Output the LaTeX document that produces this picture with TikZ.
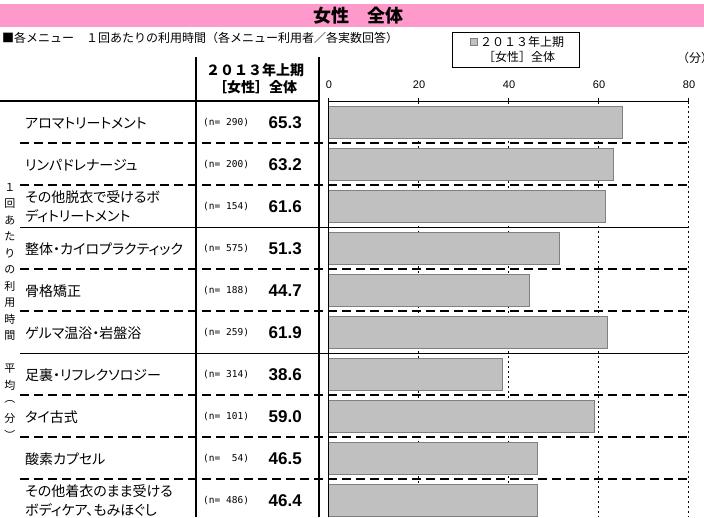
\documentclass[tikz,border=0pt]{standalone}
\usepackage{fontspec}
\setmainfont{Liberation Sans}
\newfontfamily\jp{Noto Sans CJK JP}[RawFeature=+palt]
\newfontfamily\jpfw{Noto Sans CJK JP}
\newfontfamily\nmono{DejaVu Sans Mono}
\definecolor{titlepink}{HTML}{FF99CC}
\definecolor{bargray}{HTML}{C0C0C0}
\definecolor{baredge}{HTML}{808080}

\tikzset{
  rowlab/.style={anchor=west, align=left, inner sep=0pt, font=\jp\fontsize{14}{19}\selectfont},
  nlab/.style={anchor=west, inner sep=0pt, font=\nmono\fontsize{9.5}{10}\selectfont},
  vallab/.style={anchor=east, inner sep=0pt, font=\bfseries\fontsize{17}{18}\selectfont},
  vchar/.style={inner sep=0pt, font=\jpfw\fontsize{11}{12}\selectfont},
  ticklab/.style={inner sep=0pt, font=\fontsize{11}{12}\selectfont},
  sep/.style={line width=1.6pt, dash pattern=on 9pt off 5pt},
  thinsep/.style={line width=0.6pt},
  gridline/.style={line width=1.4pt, dash pattern=on 2pt off 3pt},
  bar/.style={fill=bargray, draw=baredge, line width=0.8pt},
}

\begin{document}
\begin{tikzpicture}[x=1pt, y=-1pt]
  \useasboundingbox (0,0) rectangle (704,517);

  \fill[titlepink] (0,4) rectangle (704,27);
  \node[inner sep=0pt, font=\jpfw\bfseries\fontsize{18}{20}\selectfont] (title) at (358,16) {女性　全体};
  \node[anchor=west, inner sep=0pt, font=\jpfw\fontsize{12}{14}\selectfont] (subtitle) at (2,38)
    {■各メニュー　１回あたりの利用時間（各メニュー利用者／各実数回答）};

  \draw[line width=0.6pt] (452,32) rectangle (579,67);
  \node[draw=baredge, fill=bargray, minimum size=7pt, inner sep=0pt] (legmark) at (474,42) {};
  \node[anchor=west, inner sep=0pt, font=\jpfw\fontsize{12}{14}\selectfont] (leg1) at (480,42) {２０１３年上期};
  \node[inner sep=0pt, font=\jpfw\fontsize{12}{14}\selectfont] (leg2) at (519,57) {［女性］全体};
  \node[anchor=west, inner sep=0pt, font=\jpfw\fontsize{12}{14}\selectfont] (unit) at (677,58) {（分）};

  \node[align=center, inner sep=0pt, font=\jpfw\bfseries\fontsize{14}{17}\selectfont] (head) at (255,79)
    {２０１３年上期\\［女性］全体};

  \foreach \v in {20,40,60,80}
    \draw[gridline] ({328.5+4.5*\v},101) -- ({328.5+4.5*\v},517);

  \foreach \y in {143,185,269,311,395,437,479}
    \draw[sep] (20,\y) -- (688,\y);
  \foreach \y in {227,353}
    \draw[thinsep] (20,\y) -- (688,\y);

  \foreach \lab/\n/\val [count=\i] in {
      アロマトリートメント/290/65.3,
      リンパドレナージュ/200/63.2,
      {その他脱衣で受けるボ\\ディトリートメント}/154/61.6,
      整体・カイロプラクティック/575/51.3,
      骨格矯正/188/44.7,
      ゲルマ温浴・岩盤浴/259/61.9,
      足裏・リフレクソロジー/314/38.6,
      タイ古式/101/59.0,
      酸素カプセル/54/46.5,
      {その他着衣のまま受ける\\ボディケア、もみほぐし}/486/46.4} {
    \pgfmathsetmacro\ytop{101+42*(\i-1)}
    \node[rowlab] (lab\i) at (25,\ytop+22) {\lab};
    \node[nlab] (n\i) at (203,\ytop+22) {(n= \makebox[17.2pt][r]{\n})};
    \node[vallab] (val\i) at (302,\ytop+22) {\val};
    \draw[bar] (328.5,\ytop+5) rectangle ({328.5+4.5*\val},\ytop+37);
  }

  \foreach \ch [count=\k from 0] in {１,回,あ,た,り,の,利,用,時,間,{},平,均,︵,分,︶}
    \node[vchar] (v\k) at (10,{187+16.5*\k}) {\ch};

  \draw[line width=1.8pt] (0,101) -- (319,101);
  \draw[line width=1.3pt] (196,57) -- (196,517);
  \draw[line width=2pt] (319,57) -- (319,517);

  \draw[line width=0.8pt] (328.5,101) -- (688,101);
  \draw[line width=0.8pt] (328.5,101) -- (328.5,517);
  \foreach \v in {0,20,40,60,80} {
    \draw[line width=0.8pt] ({328.5+4.5*\v},98) -- ({328.5+4.5*\v},104);
    \node[ticklab] (tick\v) at ({329+4.5*\v},85) {\v};
  }
\end{tikzpicture}
\end{document}
